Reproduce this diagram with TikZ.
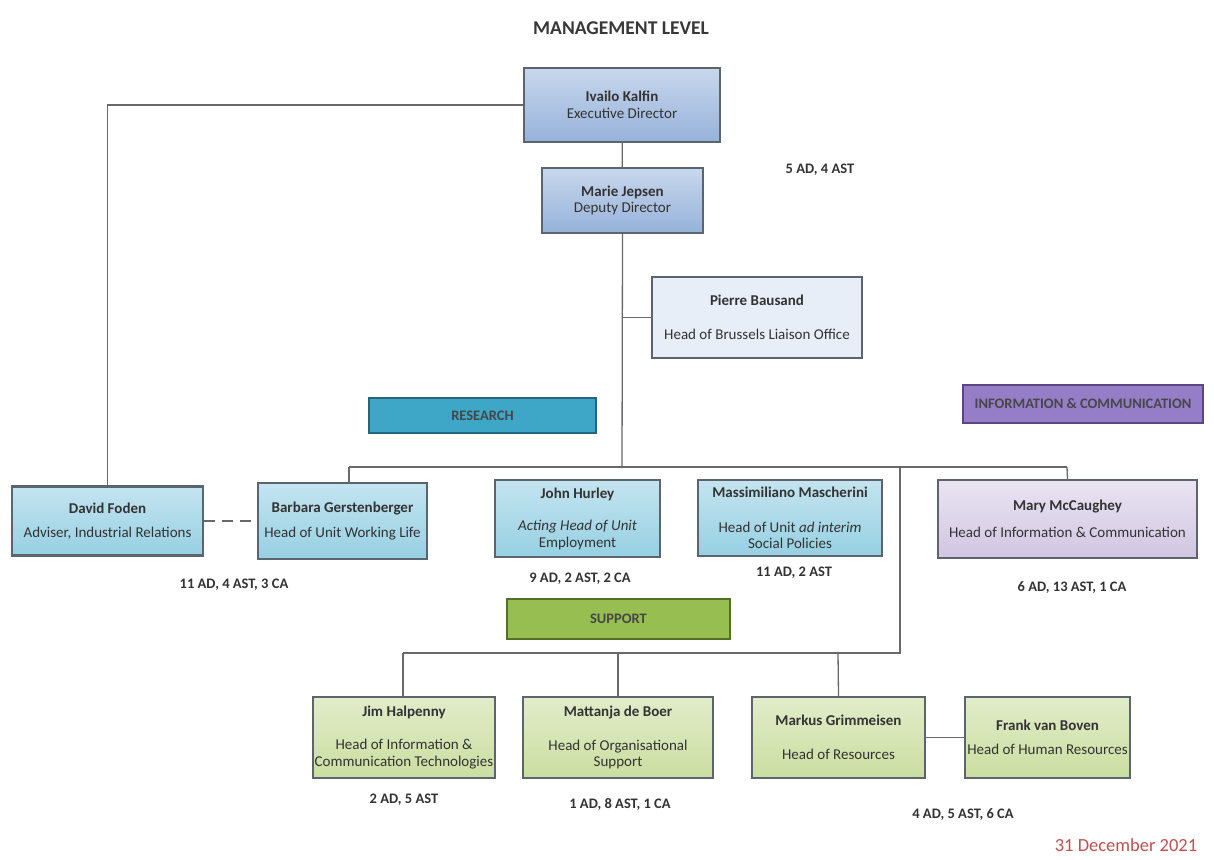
\documentclass[tikz,border=0pt]{standalone}
\usepackage{fontspec}
\setmainfont{Carlito}
\definecolor{edgegray}{RGB}{92,100,110}
\definecolor{linegray}{RGB}{105,105,105}
\definecolor{blueTop}{RGB}{200,215,236}
\definecolor{blueBot}{RGB}{150,178,218}
\definecolor{paleBlue}{RGB}{232,238,247}
\definecolor{cyanTop}{RGB}{196,228,240}
\definecolor{cyanBot}{RGB}{150,208,226}
\definecolor{resFill}{RGB}{62,166,198}
\definecolor{resEdge}{RGB}{40,100,125}
\definecolor{infoFill}{RGB}{150,125,200}
\definecolor{infoEdge}{RGB}{90,70,130}
\definecolor{lilacTop}{RGB}{234,228,242}
\definecolor{lilacBot}{RGB}{208,198,226}
\definecolor{supFill}{RGB}{150,190,80}
\definecolor{supEdge}{RGB}{85,110,40}
\definecolor{greenTop}{RGB}{226,236,202}
\definecolor{greenBot}{RGB}{202,222,160}
\definecolor{dateRed}{RGB}{192,80,77}
\tikzset{
  box/.style={draw=edgegray, line width=2.4pt, align=center, inner sep=1pt,
    font=\fontsize{15}{16.5}\selectfont, text=black!80},
  bluebox/.style={box, top color=blueTop, bottom color=blueBot},
  palebox/.style={box, fill=paleBlue},
  cyanbox/.style={box, top color=cyanTop, bottom color=cyanBot},
  lilacbox/.style={box, top color=lilacTop, bottom color=lilacBot},
  greenbox/.style={box, top color=greenTop, bottom color=greenBot},
  header/.style={line width=2.2pt, inner sep=1pt, font=\fontsize{14.5}{16}\bfseries\selectfont, text=black!72},
  staff/.style={font=\fontsize{14.5}{16}\bfseries\selectfont, text=black!80},
  conn/.style={draw=linegray, line width=1.3pt}
}
\begin{document}
\begin{tikzpicture}[x=1pt,y=-1pt]
\useasboundingbox[fill=white] (0,0) rectangle (1214,859);

\node[font=\fontsize{19.5}{22}\bfseries\selectfont, text=black!78] (title) at (621,28) {MANAGEMENT LEVEL};

% management
\node[bluebox, minimum width=196, minimum height=74] (ivailo) at (622,105)
  {\bfseries Ivailo Kalfin\\[1pt]Executive Director};
\node[bluebox, minimum width=161, minimum height=65] (marie) at (622.5,200.5)
  {\bfseries Marie Jepsen\\Deputy Director};
\node[staff] (mgmtstaff) at (820,170) {5 AD, 4 AST};
\node[palebox, minimum width=210, minimum height=81] (pierre) at (757,317.5)
  {\bfseries Pierre Bausand\\[18pt]Head of Brussels Liaison Office};

% headers
\node[header, draw=resEdge, fill=resFill, minimum width=227, minimum height=35] (research) at (482.5,415.5) {RESEARCH};
\node[header, draw=infoEdge, fill=infoFill, minimum width=240, minimum height=38] (info) at (1083,404) {INFORMATION \& COMMUNICATION};
\node[header, draw=supEdge, fill=supFill, minimum width=223, minimum height=40] (support) at (618.5,619) {SUPPORT};

% research units
\node[cyanbox, minimum width=191, minimum height=69] (david) at (107.5,521)
  {\bfseries David Foden\\[8pt]Adviser, Industrial Relations};
\node[cyanbox, minimum width=169, minimum height=76] (barbara) at (342.5,521)
  {\bfseries Barbara Gerstenberger\\[8pt]Head of Unit Working Life};
\node[cyanbox, minimum width=165, minimum height=77] (john) at (577.5,518.5)
  {\bfseries John Hurley\\[16pt]\itshape Acting Head of Unit\\Employment};
\node[cyanbox, minimum width=184, minimum height=76] (massimiliano) at (790,518)
  {\bfseries Massimiliano Mascherini\\[18pt]Head of Unit \textit{ad interim}\\Social Policies};
\node[lilacbox, minimum width=259, minimum height=78] (mary) at (1067.5,519)
  {\bfseries Mary McCaughey\\[11pt]Head of Information \& Communication};

\node[staff] (s1) at (234,585) {11 AD, 4 AST, 3 CA};
\node[staff] (s2) at (580,579) {9 AD, 2 AST, 2 CA};
\node[staff] (s3) at (794,573) {11 AD, 2 AST};
\node[staff] (s4) at (1072,588) {6 AD, 13 AST, 1 CA};

% support units
\node[greenbox, minimum width=182, minimum height=81] (jim) at (404,737.5)
  {\bfseries Jim Halpenny\\[17pt]Head of Information \&\\Communication Technologies};
\node[greenbox, minimum width=190, minimum height=81] (mattanja) at (618,737.5)
  {\bfseries Mattanja de Boer\\[17pt]Head of Organisational\\Support};
\node[greenbox, minimum width=173, minimum height=81] (markus) at (838.5,737.5)
  {\bfseries Markus Grimmeisen\\[17pt]Head of Resources};
\node[greenbox, minimum width=165, minimum height=81] (frank) at (1047.5,737.5)
  {\bfseries Frank van Boven\\[8pt]Head of Human Resources};

\node[staff] (s5) at (404,800) {2 AD, 5 AST};
\node[staff] (s6) at (620,804) {1 AD, 8 AST, 1 CA};
\node[staff] (s7) at (963,815) {4 AD, 5 AST, 6 CA};

\node[font=\fontsize{18.5}{21}\selectfont, text=dateRed] (date) at (1126,845) {31 December 2021};

% connectors
\coordinate (busL) at (349,467);
\coordinate (busM) at (622,467);
\coordinate (busS) at (900,467);
\coordinate (busR) at (1067,467);
\coordinate (supR) at (900,653);
\coordinate (supL) at (403,653);
\coordinate (supM) at (618,653);
\coordinate (supK) at (838,653);

\draw[conn] (ivailo) -- (marie);
\draw[conn] (marie.south) -- (busM);
\draw[conn] (marie.south |- pierre.west) -- (pierre.west);
\draw[conn] (ivailo.west) -| (david.north);
\draw[conn] (busL) -- (busR);
\draw[conn] (busL) -- (busL |- barbara.north);
\draw[conn] (busR) -- (mary.north);
\draw[conn] (busS) -- (supR) -- (supL);
\draw[conn] (supL) -- (supL |- jim.north);
\draw[conn] (supM) -- (mattanja.north);
\draw[conn] (supK) -- (markus.north);
\draw[conn] (markus.east) -- (frank.west);
\draw[conn, dash pattern=on 11pt off 7pt] (david.east) -- (barbara.west);
\end{tikzpicture}
\end{document}
